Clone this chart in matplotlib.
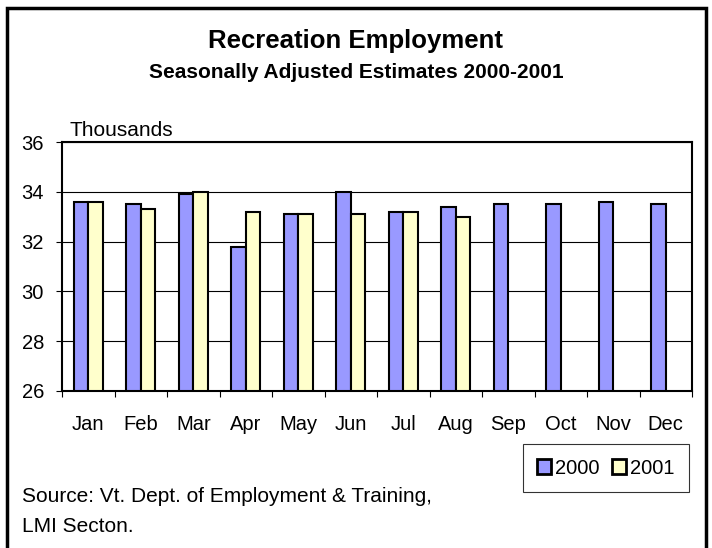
import matplotlib
matplotlib.use("Agg")
import matplotlib.pyplot as plt
from matplotlib.patches import Rectangle
import numpy as np

plt.rcParams['font.family'] = ['Liberation Sans', 'DejaVu Sans']

months = ["Jan", "Feb", "Mar", "Apr", "May", "Jun", "Jul", "Aug", "Sep", "Oct", "Nov", "Dec"]
y2000 = [33.6, 33.5, 33.9, 31.8, 33.1, 34.0, 33.2, 33.4, 33.5, 33.5, 33.6, 33.5]
y2001 = [33.6, 33.3, 34.0, 33.2, 33.1, 33.1, 33.2, 33.0]
yticks = [26, 28, 30, 32, 34, 36]

W, H = 712, 548
FS = 14.5
fig = plt.figure(figsize=(W / 100, H / 100), dpi=100)
ax = fig.add_axes([62 / W, 1 - 391 / H, (692 - 62) / W, (391 - 142) / H])

bw = 0.28
x0 = np.arange(len(y2000))
x1 = np.arange(len(y2001))
ax.bar(x0 - bw / 2, np.array(y2000) - 26, bw, bottom=26, color="#9999FF",
       edgecolor="black", linewidth=1.5, label="2000", zorder=3)
ax.bar(x1 + bw / 2, np.array(y2001) - 26, bw, bottom=26, color="#FFFFCC",
       edgecolor="black", linewidth=1.5, label="2001", zorder=3)

ax.set_xlim(-0.5, 11.5)
ax.set_ylim(26, 36)
ax.set_yticks(yticks)
ax.set_yticklabels([str(v) for v in yticks], fontsize=FS)
ax.yaxis.grid(True, color="black", linewidth=0.8, zorder=0)
ax.set_xticks(np.arange(-0.5, 12, 1))
ax.set_xticklabels([])
ax.set_xticks(x0, minor=True)
ax.set_xticklabels(months, minor=True, fontsize=FS)
ax.tick_params(axis='x', which='major', length=4.5, width=0.8, direction='out')
ax.tick_params(axis='x', which='minor', length=0, pad=17.5)
ax.tick_params(axis='y', length=4, width=0.8, direction='out', pad=9)
for s in ax.spines.values():
    s.set_linewidth(1.5)
    s.set_color("black")

fig.text(356 / W, 1 - 41 / H, "Recreation Employment", ha="center", va="center",
         fontsize=18.5, fontweight="bold")
fig.text(356 / W, 1 - 72 / H, "Seasonally Adjusted Estimates 2000-2001", ha="center",
         va="center", fontsize=15, fontweight="bold")
fig.text(70 / W, 1 - 130 / H, "Thousands", ha="left", va="center", fontsize=15)

leg = fig.legend(loc="center", bbox_to_anchor=(606 / W, 1 - 468 / H), ncol=2,
                 fontsize=FS, frameon=True, fancybox=False, handlelength=0.7,
                 handleheight=0.7, handletextpad=0.2, columnspacing=0.6,
                 borderpad=0.7, borderaxespad=0)
leg.get_frame().set_edgecolor("black")
leg.get_frame().set_linewidth(0.8)
for p in leg.get_patches():
    p.set_linewidth(2)

fig.text(22 / W, 1 - 496 / H, "Source: Vt. Dept. of Employment & Training,",
         ha="left", va="center", fontsize=15)
fig.text(22 / W, 1 - 527 / H, "LMI Secton.", ha="left", va="center", fontsize=15)

fig.patches.append(Rectangle((7 / W, -0.05), (706 - 7) / W, 1.05 - 8 / H,
                             transform=fig.transFigure, fill=False,
                             edgecolor="black", linewidth=2.5))

fig.savefig("out.png", dpi=100)
